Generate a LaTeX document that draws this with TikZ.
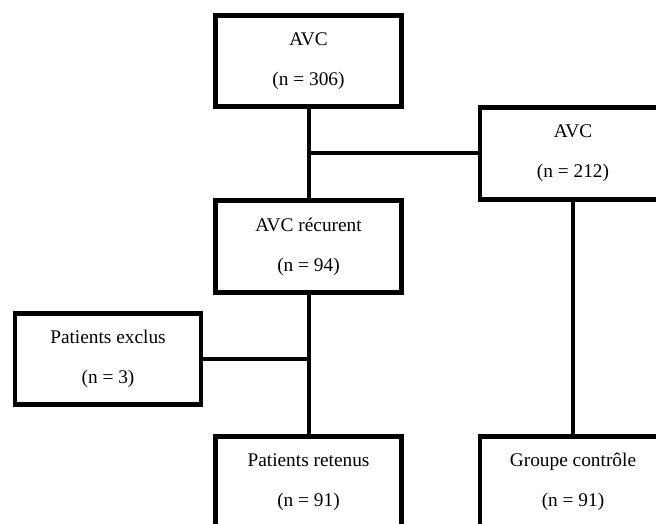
\documentclass[tikz,border=0pt]{standalone}
\usepackage{fontspec}
\setmainfont{Liberation Serif}
\tikzstyle{box}=[draw,line width=3.6pt,minimum width=139.5pt,minimum height=68.5pt,align=center,font=\fontsize{14.5}{30}\selectfont]
\tikzstyle{link}=[line width=3pt]

\begin{document}
\begin{tikzpicture}[x=0.75pt,y=-0.75pt]
  \useasboundingbox (0,0) rectangle (656,524);
  \clip (0,0) rectangle (656,524);
  % Boxes
  \node[box] (avcA) at (308.5,61) {AVC\\(n = 306)};
  \node[box] (avcB) at (573,153.5) {AVC\\(n = 212)};
  \node[box] (recur) at (308.5,246.5) {AVC récurent\\(n = 94)};
  \node[box] (exclus) at (108,359) {Patients exclus\\(n = 3)};
  \node[box] (retenus) at (308.5,482) {Patients retenus\\(n = 91)};
  \node[box] (controle) at (573,482) {Groupe contrôle\\(n = 91)};
  % Links
  \coordinate (j1) at (avcA.south |- avcB.west);
  \coordinate (j2) at (recur.south |- exclus.east);
  \draw[link] (avcA) -- (recur);
  \draw[link] (j1) -- (avcB);
  \draw[link] (avcB) -- (controle);
  \draw[link] (recur) -- (retenus);
  \draw[link] (exclus) -- (j2);
\end{tikzpicture}
\end{document}
